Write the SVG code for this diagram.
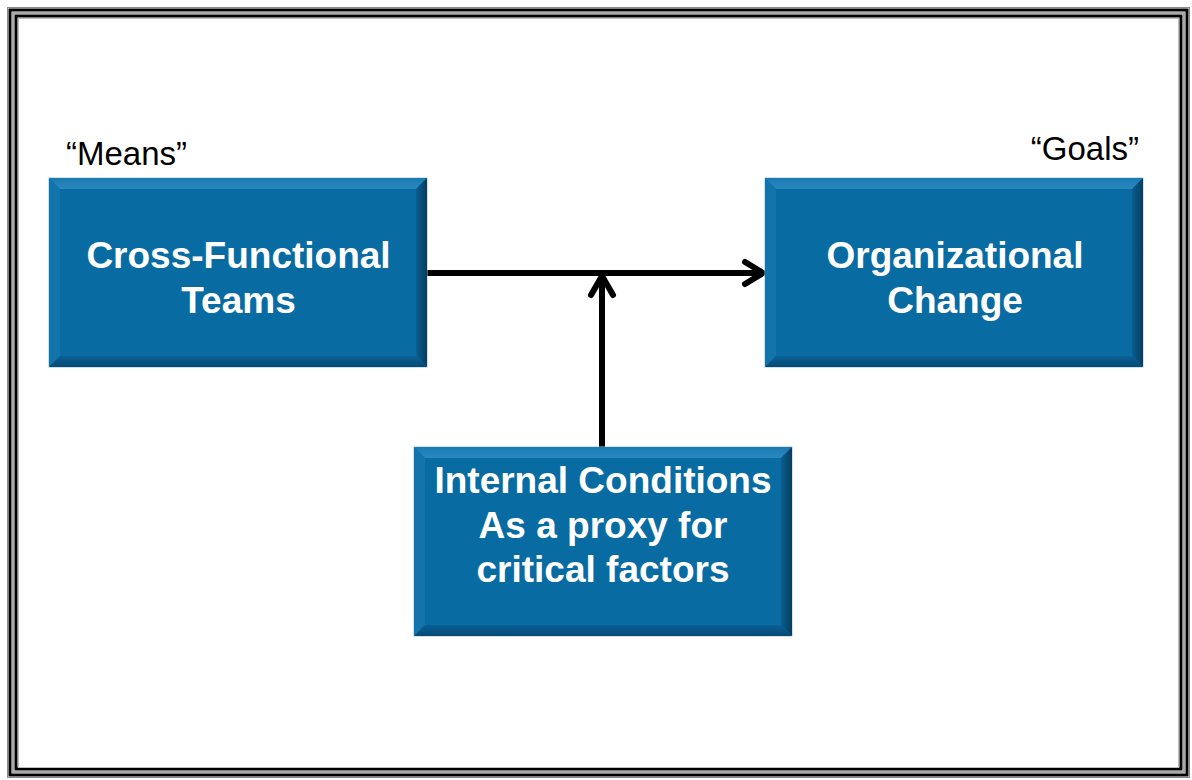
<svg xmlns="http://www.w3.org/2000/svg" xmlns:xlink="http://www.w3.org/1999/xlink" width="1192" height="780" viewBox="0 0 1192 780">
<style>
.lbl{font-family:"Liberation Sans",Arial,sans-serif;font-size:33px;fill:#000}
.box{font-family:"Liberation Sans",Arial,sans-serif;font-size:37px;font-weight:bold;fill:#fff;text-anchor:middle}
.conn{fill:none;stroke:#000;stroke-width:6;stroke-linecap:round;stroke-linejoin:round}
</style>
<defs>
<linearGradient id="gR" x1="0" y1="0" x2="1" y2="0">
<stop offset="0" stop-color="#0a5e8f"/>
<stop offset="1" stop-color="#043e62"/>
</linearGradient>
<linearGradient id="gB" x1="0" y1="0" x2="0" y2="1">
<stop offset="0" stop-color="#0a6097"/>
<stop offset="1" stop-color="#064a74"/>
</linearGradient>
<linearGradient id="gT" x1="0" y1="0" x2="0" y2="1">
<stop offset="0" stop-color="#1a7ab2"/>
<stop offset="1" stop-color="#2a88bd"/>
</linearGradient>
<g id="bevelBox">
<rect x="0" y="0" width="378" height="189" fill="#086ba2" stroke="#a9c2d2" stroke-width="1"/>
<polygon points="0,0 378,0 367,11 11,11" fill="url(#gT)"/>
<polygon points="0,0 11,11 11,178 0,189" fill="#1374ab"/>
<polygon points="378,0 378,189 367,178 367,11" fill="url(#gR)"/>
<polygon points="0,189 11,178 367,178 378,189" fill="url(#gB)"/>
</g>
</defs>
<rect x="0" y="0" width="1192" height="780" fill="#fff"/>
<g id="frame" fill="none">
<rect x="7.5" y="7.5" width="1182" height="770" stroke="#8a8a8a" stroke-width="1"/>
<rect x="10" y="10" width="1177" height="765" stroke="#000" stroke-width="3"/>
<rect x="13" y="13" width="1171" height="759" stroke="#a8a8a8" stroke-width="2"/>
<rect x="16" y="16" width="1165" height="753" stroke="#000" stroke-width="3"/>
<rect x="18.5" y="18.5" width="1160" height="749" stroke="#bdbdbd" stroke-width="1"/>
</g>
<g id="labels">
<text class="lbl" x="66" y="165">“Means”</text>
<text class="lbl" x="1139" y="160" text-anchor="end">“Goals”</text>
</g>
<g id="connectors">
<line class="conn" x1="428" y1="273" x2="762" y2="273"/>
<polyline class="conn" points="745,262 763,273 745,284"/>
<line class="conn" x1="602" y1="447" x2="602" y2="277"/>
<polyline class="conn" points="591,295 602,276 613,295"/>
</g>
<g id="node-cross-functional">
<use xlink:href="#bevelBox" x="49" y="178"/>
<text class="box" x="238.5" y="268">Cross-Functional</text>
<text class="box" x="238.5" y="313">Teams</text>
</g>
<g id="node-organizational-change">
<use xlink:href="#bevelBox" x="765" y="178"/>
<text class="box" x="955" y="268">Organizational</text>
<text class="box" x="955" y="313">Change</text>
</g>
<g id="node-internal-conditions">
<use xlink:href="#bevelBox" x="414" y="447"/>
<text class="box" x="603" y="493">Internal Conditions</text>
<text class="box" x="603" y="538">As a proxy for</text>
<text class="box" x="603" y="582">critical factors</text>
</g>
</svg>
